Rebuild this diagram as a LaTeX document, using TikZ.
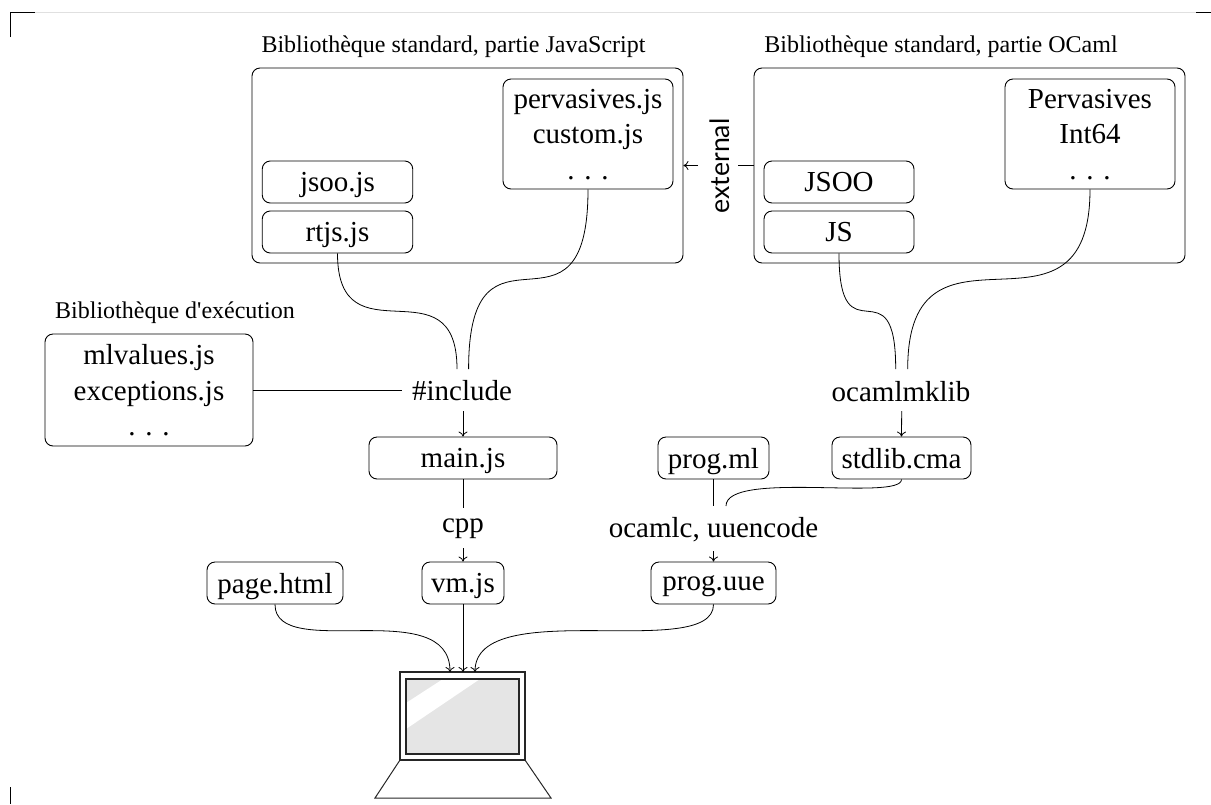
\documentclass[tikz,border=0pt]{standalone}
\usepackage{fontspec}
\setmainfont{Liberation Serif}
\newfontfamily\rawf{Liberation Serif}
\newfontfamily\sansf{Lato}
\usetikzlibrary{arrows.meta}
\begin{document}
\begin{tikzpicture}[x=1pt,y=-1pt,
  bx/.style={draw,rounded corners=8pt,line width=0.9pt,inner sep=0pt,align=center,text depth=0pt,font=\fontsize{29}{35.5}\selectfont},
  big/.style={draw,rounded corners=8pt,line width=0.9pt,inner sep=0pt},
  ttl/.style={inner sep=0pt,anchor=base,font=\fontsize{24}{28}\selectfont},
  cmd/.style={inner sep=0pt,anchor=base,font=\fontsize{29}{30}\selectfont},
  conn/.style={line width=0.8pt},
  arr/.style={conn,-{To[length=5pt,width=9pt]}},
  lap/.style={line width=1.2pt,draw=black!85}]
\useasboundingbox (0,0) rectangle (1211,804);
% page marks
\draw[black!12,line width=0.8pt] (35,12.5) -- (1196,12.5);
\draw[line width=1pt] (10,37) -- (10,12.5) -- (35,12.5);
\draw[line width=1pt] (1196,12.5) -- (1211,12.5);
\draw[line width=1pt] (10,787) -- (10,804);
% titles
\node[ttl] (t1) at (453.5,52) {Bibliothèque standard, partie JavaScript};
\node[ttl] (t2) at (941,52) {Bibliothèque standard, partie OCaml};
\node[ttl] (t3) at (175,318) {Bibliothèque d{\rawf '}exécution};
% big boxes
\node[big,minimum width=431pt,minimum height=195pt] (jslib) at (467.5,165.5) {};
\node[big,minimum width=431pt,minimum height=195pt] (mllib) at (969.5,165.5) {};
% inner boxes
\node[bx,minimum width=170pt,minimum height=110pt] (perv) at (588,134) {pervasives.js\\custom.js\\. . .};
\node[bx,minimum width=150.5pt,minimum height=42pt] (jsoo) at (337.5,182) {jsoo.js};
\node[bx,minimum width=150.5pt,minimum height=42pt] (rtjs) at (337.5,232) {rtjs.js};
\node[bx,minimum width=170pt,minimum height=110pt] (mlperv) at (1090,134) {Pervasives\\Int64\\. . .};
\node[bx,minimum width=150pt,minimum height=42pt] (mljsoo) at (839,182) {JSOO};
\node[bx,minimum width=150pt,minimum height=42pt] (mljs) at (839,232) {JS};
\node[bx,minimum width=208pt,minimum height=112pt] (exec) at (149,390) {mlvalues.js\\exceptions.js\\. . .};
\node[bx,minimum width=188pt,minimum height=42pt] (main) at (463,458) {main.js};
\node[bx,minimum width=111pt,minimum height=42pt] (progml) at (713.5,458) {prog.ml};
\node[bx,minimum width=139pt,minimum height=42pt] (stdlib) at (901.5,458) {stdlib.cma};
\node[bx,minimum width=136pt,minimum height=42pt] (page) at (275,583) {page.html};
\node[bx,minimum width=82pt,minimum height=42pt] (vm) at (463,583) {vm.js};
\node[bx,minimum width=125pt,minimum height=42pt] (uue) at (713.5,583) {prog.uue};
% command labels
\node[cmd] (incl) at (462,400) {\#include};
\node[cmd] (mklib) at (901,401) {ocamlmklib};
\node[cmd] (cpp) at (463,532) {cpp};
\node[cmd] (ocamlc) at (713.5,537) {ocamlc, uuencode};
\node[inner sep=0pt,rotate=90,font=\sansf\fontsize{26.7}{30}\selectfont] (ext) at (719.5,166) {external};
% laptop
\coordinate (lapa) at (450,672);
\coordinate (lapb) at (463,672);
\coordinate (lapc) at (475,672);
\fill[black!10] (406,679) rectangle (519,754);
\fill[white] (443,679) -- (480,679) -- (406,729) -- (406,703) -- cycle;
\draw[lap] (406,679) rectangle (519,754);
\draw[lap] (400,672) rectangle (525,760);
\draw[line width=1pt,draw=black!85] (400,760) -- (375,798) -- (551,798) -- (525,760);
% connectors
\coordinate (i1) at (457,369);
\coordinate (i2) at (468.6,369);
\coordinate (m1) at (895.7,369);
\coordinate (m2) at (907.7,369);
\coordinate (x1) at (402,390);
\draw[conn] (rtjs.south) .. controls +(0,110) and +(0,-110) .. (i1);
\draw[conn] (perv.south) .. controls +(0,170) and +(0,-170) .. (i2);
\draw[conn] (mljs.south) .. controls +(0,110) and +(0,-110) .. (m1);
\draw[conn] (mlperv.south) .. controls +(0,172) and +(0,-172) .. (m2);
\draw[conn] (exec.east) -- (x1);
\coordinate (a1) at (463,411);
\draw[arr] (a1) -- (main.north);
\coordinate (a2) at (901.7,411);
\draw[arr] (a2) -- (stdlib.north);
\coordinate (c1) at (463,508);
\draw[conn] (main.south) -- (c1);
\coordinate (c2) at (463,548);
\draw[arr] (c2) -- (vm.north);
\coordinate (o1) at (713.5,506);
\draw[conn] (progml.south) -- (o1);
\coordinate (o2) at (726,506);
\draw[conn] (stdlib.south) .. controls +(0,22) and +(0,-36) .. (o2);
\coordinate (o3) at (713.5,551);
\draw[arr] (o3) -- (uue.north);
\draw[arr] (page.south) .. controls +(0,58) and +(0,-78) .. (lapa);
\draw[arr] (vm.south) -- (lapb);
\draw[arr] (uue.south) .. controls +(0,58) and +(0,-78) .. (lapc);
\coordinate (e1) at (754,165.5);
\coordinate (e2) at (738,165.5);
\coordinate (e3) at (698,165.5);
\draw[conn] (e1) -- (e2);
\draw[arr] (e3) -- (jslib.east |- e3);
\end{tikzpicture}
\end{document}
